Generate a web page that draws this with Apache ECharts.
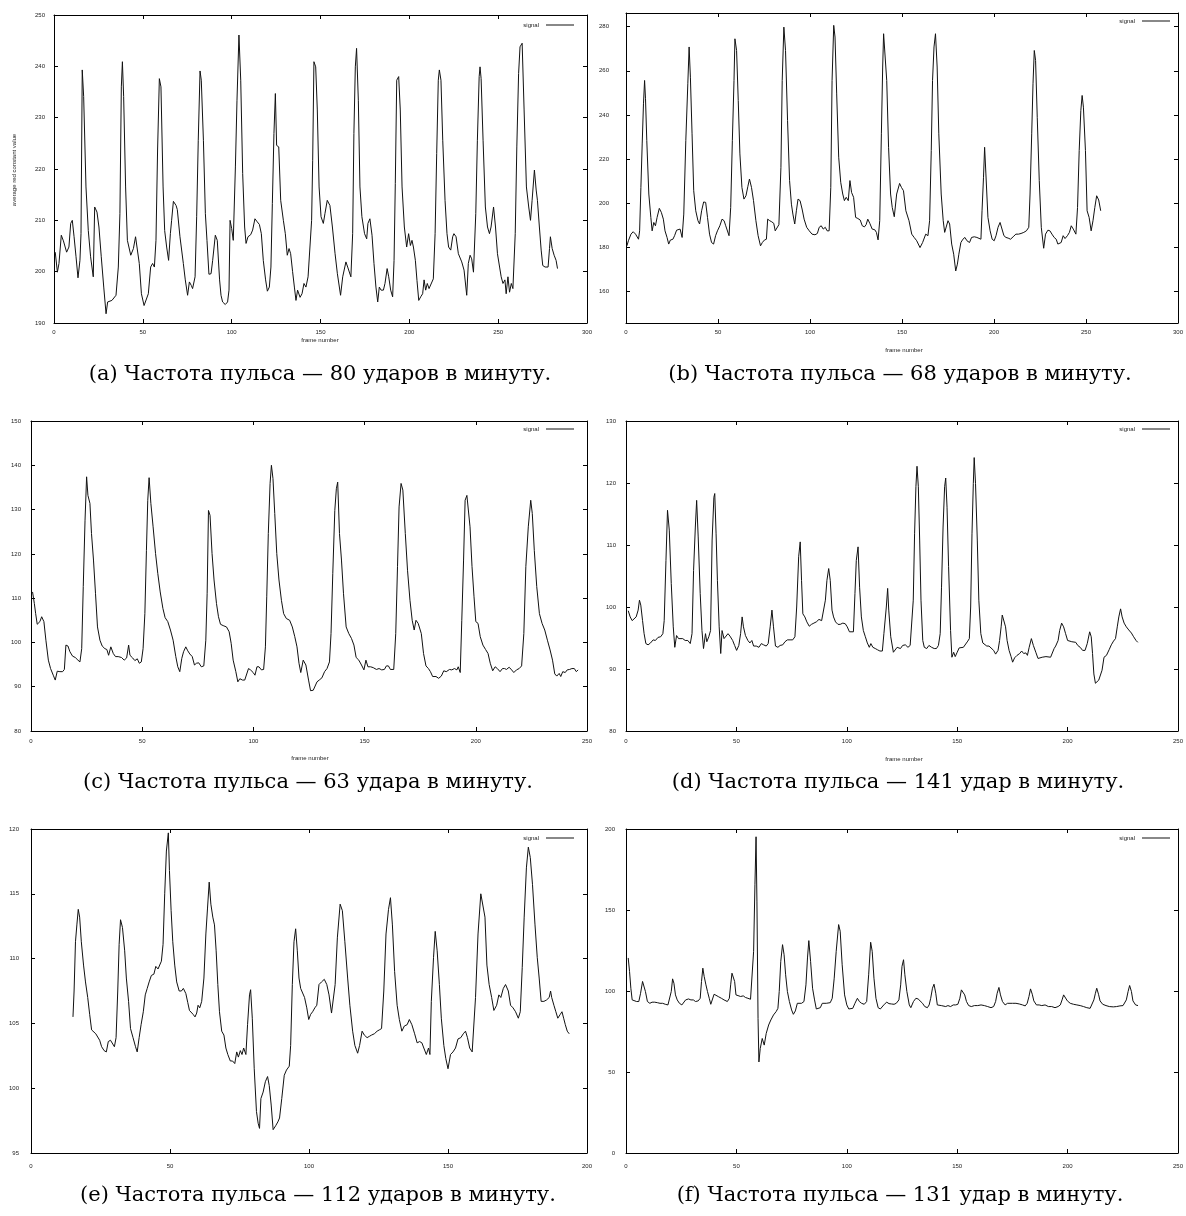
<!DOCTYPE html>
<html>
<head>
<meta charset="utf-8">
<title>Pulse signals</title>
<script src="https://cdn.jsdelivr.net/npm/echarts@6/dist/echarts.min.js"></script>
<style>
html, body { margin: 0; padding: 0; background: #fff; }
#chart { width: 1186px; height: 1216px; }
</style>
</head>
<body>
<div id="chart"></div>
<script>
// [frame, average red value]
var signalA = [[0.7,203.8],[1.9,199.9],[2.8,201.6],[4.1,207.1],[5.3,206],[7.1,203.8],[8.4,204.8],[9.4,209.4],[10.3,210],[11.3,206.8],[12.4,202.9],[13.5,198.8],[14.6,202.2],[15.2,207.4],[15.9,239.3],[16.7,234.1],[18,216.5],[19.3,208],[20.6,202.9],[22.1,199],[22.9,212.6],[24.2,211.6],[25.3,208.7],[26.6,202.9],[28,197],[29.3,191.8],[30.2,194.1],[31.1,193.8],[32.6,194.4],[34.9,195.4],[36.2,200.9],[37.1,211.3],[37.9,236],[38.5,240.9],[39.2,234.1],[40.3,216.5],[41.3,206.1],[43.2,203.2],[44.7,204.5],[45.9,206.8],[46.5,207.1],[48,201.6],[49.2,195.7],[50.7,193.4],[51.8,193.4],[53.1,195.7],[54.4,200.9],[55.5,201.6],[56.5,200.9],[57.4,206.1],[58.3,223.7],[59.3,237.6],[60.2,236],[61.4,216.5],[62.3,208],[63.4,204.8],[64.5,202.2],[65.5,207.4],[66.2,210],[67.2,213.7],[68.7,212.9],[69.4,212.1],[70.9,206.8],[72.8,201.6],[73.9,198.4],[75.2,195.4],[76.2,198],[77.3,197.3],[78,196.7],[79.4,199],[80.3,210.7],[81.2,225.6],[82.2,239.1],[82.9,237.3],[84.1,225.6],[85.2,211.3],[86.1,206.1],[87.2,199.5],[88.4,199.6],[89.3,202.2],[90.8,207.1],[91.9,206.1],[93.2,198.4],[94,195.4],[94.9,194.1],[96.4,193.6],[97.7,194.1],[98.5,196.4],[99.1,210],[100,208.4],[100.9,206.1],[102.1,220.4],[103,233.4],[104.1,246.1],[105.1,237.3],[106.2,219.1],[107.3,208.7],[108.1,205.5],[109.2,206.8],[110.7,207.2],[111.8,208.1],[113.1,210.3],[114.4,209.7],[115.6,209.2],[116.7,207.4],[117.8,202.2],[119.1,198.4],[120.1,196.2],[121.2,197],[122.1,200.9],[122.9,213.3],[123.8,226.9],[124.6,234.7],[125.3,224.6],[126.5,224.3],[127.6,213.9],[129.1,210],[130.2,207.4],[131.3,203.2],[132.3,204.5],[133.2,203.5],[134.3,200],[135.3,197],[136.2,194.4],[137.1,196.4],[138.5,195],[139.6,195.7],[140.7,197.7],[141.8,197],[143,199],[144.1,199],[145,210],[145.6,221.7],[146.3,240.9],[147.3,239.9],[148.2,231.5],[149.2,216.5],[150.3,210.7],[151.6,209.4],[152.5,211.3],[153.8,213.9],[155.3,212.9],[156.7,208.7],[158.2,203.5],[159.5,199.6],[161.3,195.4],[162.5,199],[163.4,199],[164.3,201.9],[165.3,200.9],[166.2,201.2],[167.1,199],[168.1,207.4],[168.8,226.9],[169.6,239.9],[170.3,243.5],[171.3,233.4],[172.2,216.5],[173.3,210.7],[174.8,207.4],[176,206.4],[176.7,209.4],[177.8,210.3],[179,207.1],[180.1,201.6],[181.2,197],[182.2,194.1],[183.1,197],[184.1,196.4],[185.4,196.4],[186.3,197.7],[187.5,200.6],[188.4,199],[189.5,196.4],[190.6,195.1],[191.4,202.2],[192.1,217.2],[192.9,237.3],[194,238],[194.9,231.5],[195.9,216.5],[197.2,208.7],[198.5,204.8],[199.6,207.4],[200.6,205.1],[201.5,206.1],[202.3,204.8],[203.4,202.2],[204.3,198.3],[205.3,194.4],[206.4,195.1],[207.5,195.7],[208.3,198.4],[209.2,196.4],[210.1,197.7],[211.1,196.7],[212.2,197],[213.5,198.6],[214.5,207.4],[215.4,223],[216.3,237.3],[216.9,239.3],[217.8,237.3],[218.8,225.6],[220.1,213.9],[221.2,207.4],[222.1,204.8],[223.3,204.2],[224.4,206.8],[225.1,207.4],[226.3,206.8],[227.6,203.5],[229.5,201.9],[230.8,200.3],[232.3,195.4],[233.2,201.6],[234.2,203.2],[235.1,202.5],[236.1,199.9],[237.4,211.3],[238.3,225.6],[239.3,238],[239.8,239.9],[240.4,237.6],[241.5,225.6],[242.8,212.6],[244,208.7],[245.1,207.4],[246,208.7],[247.4,212.6],[248.5,208.7],[249.6,203.5],[250.8,200.9],[251.7,199],[252.7,197.7],[253.8,198.4],[254.5,195.7],[255.5,199],[256.4,196],[257.4,197.7],[258.3,196.7],[259.6,207.4],[260.5,224.3],[261.5,238.6],[262.3,243.8],[263.5,244.5],[264.6,231.5],[265.9,216.5],[267.2,212.6],[268.2,210],[269.1,213.9],[270.4,219.8],[271.4,215.9],[272.1,213.9],[273.2,208.7],[274.2,204.2],[275.1,201.2],[276.4,200.9],[278.1,200.9],[278.9,204.5],[279.4,206.8],[280.4,204.5],[281.5,203.2],[282.6,202.2],[283.4,200.6]];

var signalB = [[0.5,180.6],[1.3,182.9],[2.7,185.9],[3.9,187],[5.2,185.9],[6.8,183.6],[7.4,187.4],[8.1,207.1],[8.8,226.8],[9.5,245],[10.1,255.6],[10.6,247.3],[11.3,228.3],[12.4,204.1],[13.5,193.5],[14.2,187.4],[15.1,191.2],[16,189.7],[16.9,193.5],[18.1,197.6],[19.2,195.8],[20.3,192.7],[21.2,187.4],[22.3,184.4],[23.2,181.4],[24.1,183.2],[25.5,183.6],[26.4,185.2],[27.5,187.7],[28.5,187.7],[29.4,188.2],[30.5,184.4],[31.4,195],[32.5,228.3],[33.6,254.1],[34.3,270.8],[35,257.1],[35.9,231.4],[36.8,205.6],[37.9,196.5],[39.1,192],[40,190.5],[41.1,196.5],[42.2,200.5],[43.3,200.3],[44.3,193.5],[45.4,185.9],[46.5,182.1],[47.6,181.4],[48.7,185.2],[49.7,187.4],[51,189.7],[52.2,192.7],[53.3,192],[54.2,189.7],[55.1,188.9],[56,185.2],[56.9,198],[57.8,228.3],[58.7,255.6],[59.2,274.5],[60.1,269.2],[61,246.5],[61.9,222.3],[63,207.1],[64.1,201.8],[65.2,203.3],[66.2,207.4],[67.1,210.9],[68.2,207.1],[69.3,201.1],[70.6,192],[71.8,185.2],[73.1,180.6],[74.1,182.1],[75.2,183.2],[76.3,183.6],[77,192.7],[78.1,192],[79.2,191.5],[80.3,190.8],[81.1,187.4],[82,187.4],[83.1,190.2],[84.2,216.2],[84.9,255.6],[85.8,279.8],[86.7,269.2],[87.8,237.4],[88.9,210.2],[89.9,199.5],[90.7,195],[91.7,190.5],[92.6,196.5],[93.5,201.8],[94.6,201.1],[95.7,197.3],[96.8,192.7],[98.2,189],[99.6,187.4],[101.1,185.9],[102.7,185.6],[104,186.2],[105,189],[106.1,189.7],[107.2,188.2],[108.3,189],[109.3,187.4],[110.4,187.4],[111.3,207.1],[112,255.6],[112.9,280.6],[113.6,275.3],[114.5,249.5],[115.6,220.8],[116.7,209.4],[117.8,204.1],[118.7,201.1],[119.7,202.6],[120.8,201.1],[121.7,210.2],[122.6,204.8],[123.7,202.6],[124.8,193.5],[126,193],[127.3,192.3],[128.4,189.7],[129.6,189.2],[130.5,190.2],[131.4,192.7],[132.5,190.8],[133.8,188.2],[135.2,187.9],[136.1,186.7],[137,183.3],[137.9,192],[138.8,231.4],[139.5,261.7],[140,276.8],[140.9,276.1],[141.7,255.6],[142.7,225.3],[143.8,204.1],[144.7,198],[145.8,193.8],[147.1,204.1],[148.7,208.9],[149.7,207.1],[150.8,205.6],[152.1,196.5],[153.8,192],[155.3,185.9],[156.6,184.4],[158,182.9],[159.8,179.8],[161.2,182.1],[162.9,185.9],[164.1,185.2],[165,192],[165.9,223.8],[166.6,255.6],[167.4,270.8],[168.2,276.8],[169.1,261.7],[170,231.4],[171.3,204.1],[172.4,192],[173.2,186.7],[174.1,187.4],[175,192],[175.9,190.5],[177,181.4],[178.1,176.8],[179.2,169.2],[180.1,172.3],[180.9,176.8],[182,182.1],[183.1,183.6],[184.2,184.4],[185.3,182.9],[186.7,182.1],[187.8,184.4],[189.3,184.7],[190.7,184.4],[192.9,183.6],[193.5,196.5],[194.3,211.7],[194.9,225.3],[195.6,213.2],[196.7,193.5],[197.9,187.4],[199,183.6],[200.1,182.9],[201.1,185.2],[202.2,189],[203.3,191.2],[204.3,190.5],[205.4,185.2],[206.5,184.4],[207.7,184.1],[209,183.6],[210.4,184.7],[211.9,185.9],[213.3,185.9],[214.7,186.2],[216.2,186.7],[217.6,187.4],[218.9,189],[219.6,204.1],[220.5,231.4],[221.2,254.1],[221.9,269.2],[222.6,264.7],[223.5,238.9],[224.6,210.2],[225.7,189],[227,179.5],[228,185.9],[229.3,187.7],[230.4,187.4],[231.5,185.9],[232.7,184.4],[233.8,183.6],[234.7,181.4],[235.6,181.8],[236.5,182.1],[237.6,185.2],[238.6,183.9],[239.9,185.2],[241,186.7],[242,189.7],[243.1,188.2],[244.5,185.9],[245.4,198],[246.3,223.8],[247.2,242],[247.9,248.8],[248.6,243.5],[249.7,223.8],[250.6,196.5],[251.7,193.5],[252.8,187.4],[253.8,192],[254.8,198],[255.8,203.3],[256.9,201.4],[258,196.5]];

var signalC = [[0.7,111.4],[1.5,108.8],[2.1,106.5],[2.8,104.1],[4,104.7],[4.8,105.8],[5.8,104.7],[6.7,100.5],[7.8,96],[8.8,94.1],[10,92.6],[10.9,91.5],[11.8,93.5],[13,93.4],[14.2,93.4],[15,93.9],[15.7,99.4],[16.6,99.2],[17.5,97.9],[18.7,96.9],[19.9,96.6],[21.1,96],[22,95.6],[22.8,98.6],[23.5,112.6],[24.3,127.6],[25,137.4],[25.6,133.2],[26.5,131.4],[27.2,124.6],[28.1,118.6],[29,111.1],[29.9,103.5],[31,100.5],[32,99.2],[33.2,98.6],[34.1,98.4],[34.9,97.1],[35.9,99],[37,97.5],[38,96.8],[39.2,96.8],[40.7,96.6],[41.9,96],[43,96.5],[43.9,99.4],[44.5,97.1],[45.7,96.5],[46.7,95.9],[47.8,96.3],[48.7,95.3],[49.6,95.6],[50.4,98.6],[51.2,106.5],[51.9,120.8],[52.5,132.1],[53.1,137.2],[53.9,131.4],[54.9,126.1],[56,120.1],[57,115.6],[58.1,111.4],[59.3,107.7],[60.3,105.6],[61.5,104.7],[62.7,102.8],[63.9,100.5],[65.1,96.8],[66,94.5],[66.9,93.4],[67.8,96.4],[68.6,97.9],[69.6,99],[70.5,98.1],[71.4,97.4],[72.5,96.8],[73.5,94.9],[74.4,95.3],[75.4,95.4],[76.6,94.5],[77.7,94.7],[78.6,100.5],[79.2,111.1],[79.8,129.8],[80.5,128.7],[81.4,120.1],[82.3,114.1],[83.4,108.8],[84.3,105.8],[85.2,104.1],[86.4,103.8],[87.9,103.5],[89.1,102.4],[90,99.8],[90.9,96],[92.1,93.4],[93,91.1],[93.9,91.8],[95.1,91.5],[96.1,91.5],[96.9,91.3],[97.8,94.1],[98.7,93.8],[99.9,93.2],[100.7,92.6],[101.6,94.5],[102.5,94.5],[103.6,93.8],[104.6,93.9],[105.4,99],[106,110.3],[106.7,124.6],[107.5,135.9],[108.1,140],[108.8,137],[109.6,129.1],[110.5,120.1],[111.5,114.1],[112.6,109.5],[113.6,106.5],[114.8,105.4],[116.3,105],[117.5,103.5],[118.6,101.3],[119.6,99],[120.5,95.3],[121.3,93.2],[122.4,96],[123.6,94.9],[124.8,91.5],[125.7,89.1],[126.9,89.2],[127.5,88.9],[128.6,91.1],[129.6,91.5],[130.8,92],[132,93.4],[133.1,94.1],[134.2,95.6],[134.9,102],[135.7,115.6],[136.6,129.8],[137.3,134.7],[137.9,136.2],[138.7,124.6],[139.6,118.6],[140.5,111.1],[141.7,103.5],[142.9,102],[144.1,100.9],[145.2,99.4],[146.2,96.6],[147.4,96],[148.6,94.9],[149.7,93.8],[150.6,96],[151.5,94.5],[152.7,94.5],[153.9,94.3],[155.3,93.9],[156.5,94.1],[157.7,93.8],[158.9,93.9],[159.8,94.7],[160.7,94.7],[161.6,93.9],[163.1,93.9],[164,102],[164.8,117.1],[165.5,130.6],[166.4,135.9],[167.2,134.4],[168.3,124.6],[169.3,116.3],[170.4,109.5],[171.4,105],[172.3,102.8],[173.1,105],[174.1,104.3],[175.5,102],[176.5,97.5],[177.6,94.7],[178.7,94.1],[179.6,93.4],[180.6,92.3],[182.1,92.3],[183.3,91.9],[184.5,92.4],[185.6,93.6],[186.7,93.4],[188.2,93.9],[189.2,93.8],[190.4,94.1],[191.5,93.8],[192.1,94.5],[193,93.2],[193.7,105],[194.5,118.6],[195.2,132.1],[196,133.2],[196.6,133.6],[197.4,126.1],[198.3,117.1],[199.2,110.3],[200,104.7],[201,104.3],[202,101.3],[203.2,99.4],[204.4,98.4],[205.5,97.5],[206.5,95.3],[207.6,93.6],[208.7,94.5],[209.7,94.1],[210.9,93.4],[212,94.1],[212.9,94.1],[213.8,93.9],[215,94.4],[216.1,93.8],[217.1,93.2],[218.3,93.8],[219.5,94.1],[220.6,94.7],[221.6,102],[222.5,117.1],[223.6,126.1],[224.7,132.1],[225.4,129.1],[226.3,120.8],[227.4,112.6],[228.6,106.5],[229.8,104.3],[231,102.8],[232.2,100.5],[233.4,98.3],[234.5,96],[235.5,92.9],[236.4,92.4],[237.5,93],[238.2,92.3],[239.1,93.4],[240.2,93.2],[241.1,93.8],[242.2,93.9],[243.2,94.1],[244.3,94.1],[245.2,93.4],[246,93.8]];

var signalD = [[1,99.4],[1.9,98.4],[2.8,97.8],[3.7,97.6],[4.6,98.4],[5.5,99.5],[6.1,101.1],[6.7,100.3],[7.5,97.8],[8.2,95.7],[9,94.1],[10,93.9],[11.1,94.2],[12.3,94.7],[13.3,94.6],[14.5,95.1],[15.7,95.2],[16.7,95.7],[17.3,97.8],[18.1,107.5],[18.8,115.6],[19.6,112.4],[20.5,103.8],[21.4,96.8],[22.1,93.5],[22.9,95.4],[23.8,94.9],[24.7,95.2],[25.7,94.9],[26.8,94.6],[28,94.6],[29.1,94.1],[29.9,95.7],[30.6,105.9],[31.4,112.9],[32,117.2],[32.7,111.3],[33.6,102.2],[34.4,96.2],[35.1,93.3],[36,95.7],[36.6,94.4],[37.5,95.2],[38.3,96.2],[39,110.8],[39.8,117.7],[40.2,118.3],[40.8,111.8],[41.4,104.3],[42.2,96.8],[42.9,92.5],[43.5,96.2],[44.4,94.9],[45.3,95.2],[46.2,95.7],[47.1,95.3],[48.3,94.6],[49.2,93.8],[50.1,93],[51.1,93.8],[51.9,95.7],[52.6,98.4],[53.2,96.8],[54.1,95.4],[55.2,94.6],[56.1,94.2],[57,94.6],[57.8,93.7],[59,93.7],[60.2,93.5],[61.3,94.1],[62.3,93.9],[63.5,93.7],[64.4,94.1],[65.3,96.8],[66.1,99.5],[66.8,96.8],[67.7,93.7],[68.8,93.5],[69.8,93.8],[71,93.9],[72,94.4],[73.1,94.7],[74.3,94.7],[75.5,94.7],[76.5,95.2],[77.3,100],[78.2,108.1],[78.9,110.5],[79.5,104.3],[80.1,98.9],[81,98.4],[81.9,97.6],[83,96.9],[84,97.2],[85.1,97.4],[86.2,97.6],[87.4,98],[88.6,97.8],[89.5,98],[90.3,101.1],[91,104.3],[91.8,106.2],[92.5,104.3],[93.3,99.5],[94,98.4],[94.9,97.6],[96,97.2],[97,97.2],[98.2,97.4],[99.3,97.3],[100.2,96.8],[101.2,96],[102.1,95.7],[103,96],[103.7,102.2],[104.3,107.5],[105.1,109.7],[105.8,103.2],[106.6,98.4],[107.5,96.2],[108.4,95.2],[109.3,94.2],[110.2,93.5],[110.9,94.1],[111.8,93.5],[112.9,93.3],[113.9,93.1],[115,92.9],[116.1,92.9],[116.8,95.7],[117.9,100],[118.5,103],[119,99.5],[119.9,95.2],[121.1,92.7],[122,92.5],[122.8,93.5],[123.5,93.8],[124.3,93.3],[125.3,93.8],[126.5,93.9],[127.7,93.5],[128.7,93.8],[129.5,94.1],[130.1,101.1],[130.7,111.8],[131.3,119.4],[131.8,122.7],[132.4,119.4],[133,110.8],[133.6,101.1],[134.4,94.6],[135.1,93.5],[136.2,93.3],[137.2,93.8],[138.4,93.5],[139.6,93.3],[140.6,93.3],[141.5,93.8],[142.3,95.7],[142.9,103.2],[143.6,112.9],[144.3,119.4],[144.8,120.8],[145.4,116.1],[146.1,106.5],[147,96.2],[147.6,91.9],[148.4,92.7],[149.1,92],[150,92.7],[150.9,93.4],[151.8,93.4],[152.8,93.5],[153.7,93.8],[154.8,94.5],[155.5,94.9],[156.1,100],[156.7,111.8],[157.3,119.9],[157.7,124.1],[158.3,119.9],[159.1,110.8],[159.8,101.1],[160.7,95.7],[161.6,94.2],[162.5,94.2],[163.4,93.7],[164.4,93.7],[165.3,93.5],[166.5,93],[167.4,92.4],[168.5,93],[169.2,94.6],[169.9,96.8],[170.4,98.7],[171.3,98.7],[171.9,96.8],[172.6,94.6],[173.5,93],[174.4,92],[175.1,91.1],[176,91.8],[177.1,92.2],[178.3,92.5],[179.2,92.9],[180.1,92.5],[181.1,92.6],[181.8,92.2],[182.6,93.5],[183.6,94.9],[184.5,93.8],[185.6,92.7],[186.6,91.7],[187.5,91.7],[188.5,91.9],[189.4,92.2],[190.2,92],[191.1,91.7],[192.3,91.9],[193.2,92.2],[193.9,93.3],[194.6,93.7],[195.7,94.6],[196.4,96.2],[197.3,97.4],[198.2,96.8],[199.1,95.7],[200,94.6],[200.9,94.5],[201.9,94.4],[202.8,94.1],[203.7,94.3],[204.6,93.8],[205.7,93.5],[206.8,93],[207.9,93],[208.9,94.1],[210,96],[210.7,95.2],[211.3,92.5],[211.9,89.2],[212.6,87.7],[213.4,87.5],[214.1,88.2],[214.9,87.9],[215.6,89.8],[216.5,91.9],[217.6,92.2],[218.8,93.1],[219.8,93.9],[220.8,94.5],[221.7,94.9],[222.5,96.8],[223.2,98.4],[224,99.7],[224.7,98.4],[225.6,97.4],[226.6,96.8],[227.7,96.3],[228.9,95.8],[229.9,95.2],[231,94.6],[231.8,94.3]];

var signalE = [[15.1,105.5],[15.5,107.5],[16,111.3],[16.5,112.6],[17,113.8],[17.5,113.2],[18.1,111.3],[18.9,109.5],[19.6,108.2],[20.4,107],[21.1,105.7],[21.8,104.5],[22.5,104.4],[23.3,104.2],[24,104.2],[24.7,103.7],[25.4,103.2],[26.3,102.9],[27.1,102.8],[27.8,103.6],[28.6,103.7],[29.3,103.6],[30,103.2],[30.6,103.9],[31.2,107.5],[31.7,111.1],[32.2,113],[32.9,112.4],[33.7,110.6],[34.3,108.5],[35.1,106.7],[35.8,104.6],[36.7,103.9],[37.6,103.2],[38.2,102.8],[38.9,103.9],[39.6,104.9],[40.4,105.9],[41.1,107.2],[41.8,107.7],[42.5,108.2],[43.3,108.7],[44.2,108.8],[44.9,109.4],[45.7,109.2],[46.3,109.3],[46.9,109.8],[47.5,111.1],[48.1,115],[48.7,118.3],[49.4,119.7],[49.8,116.8],[50.4,113.7],[51,111.3],[51.7,109.5],[52.4,108.2],[53.3,107.5],[54.1,107.5],[54.8,107.7],[55.7,107.3],[56.4,106.6],[57,106],[57.6,106.1],[58.3,105.7],[59,105.5],[59.6,105.8],[60.1,106.4],[60.7,106.2],[61.4,106.7],[62.2,108.5],[62.9,111.9],[63.5,113.9],[64.1,115.9],[64.7,114.2],[65.4,113.2],[66,112.6],[66.6,110.6],[67.2,108],[67.8,105.9],[68.6,104.4],[69.4,104.1],[70.1,103.1],[70.8,102.6],[71.7,102.1],[72.5,102.1],[73.3,101.9],[74,102.8],[74.6,102.4],[75.3,102.9],[75.9,102.6],[76.5,103.1],[77.3,102.6],[77.9,104.9],[78.6,107.2],[79,107.6],[79.6,105.4],[80.3,101.5],[81.1,98.2],[81.7,97.3],[82.2,96.9],[82.7,99.2],[83.5,99.7],[84.3,100.5],[85.1,100.9],[85.7,100.2],[86.4,98.7],[87.1,96.8],[88,97.1],[88.8,97.4],[89.4,97.7],[90.2,99.2],[91.1,101],[91.9,101.4],[92.9,101.7],[93.4,103.3],[94,108],[94.6,111.3],[95.2,112.3],[95.8,110.6],[96.4,108.5],[97,107.7],[97.7,107.6],[98.4,107],[99.2,106.2],[99.9,105.3],[100.6,105.7],[101.3,105.9],[102.1,106.2],[102.8,106.4],[103.6,108],[104.5,108.2],[105.5,108.4],[106.4,108],[107.2,107.2],[108.1,105.8],[108.8,105.9],[109.4,108],[110.2,111.6],[111.2,114.2],[112,113.7],[112.9,111.3],[113.9,108.5],[114.7,106.4],[115.7,104.4],[116.5,103.3],[117.5,102.7],[118.2,103.3],[119.1,104.4],[119.9,104.1],[120.9,103.9],[121.7,104],[122.5,104.1],[123.5,104.2],[124.5,104.4],[125.3,104.5],[126.1,104.6],[126.9,107.5],[127.7,111.9],[128.6,113.8],[129.3,114.7],[130,112.6],[130.8,109],[131.7,106.4],[132.5,105.3],[133.4,104.4],[134.3,104.8],[135.3,104.9],[136.1,105.3],[137,104.9],[138,104.2],[138.9,103.5],[139.8,103.6],[140.6,103.5],[141.3,103.1],[142.2,102.6],[143,103.1],[143.5,102.6],[144,106.7],[144.8,110.1],[145.4,112.1],[146.1,110.6],[146.9,108],[147.6,105.4],[148.5,103.3],[149.2,102.3],[150,101.5],[150.9,102.6],[151.8,102.8],[152.7,103.1],[153.6,103.8],[154.6,103.9],[155.5,104.2],[156.3,104.4],[157,103.9],[157.8,103.1],[158.7,102.8],[159.3,102.7],[159.9,107],[160.8,111.9],[161.8,115],[162.5,115.1],[163.3,113.2],[164,109.5],[164.8,108],[165.7,107],[166.5,106],[167.5,106.4],[168.3,107.2],[169,107],[169.9,107.7],[170.7,108],[171.7,107.5],[172.5,106.4],[173.4,106.2],[174.3,105.9],[175.3,105.4],[176,105.9],[176.7,109.3],[177.4,113.2],[178.2,117],[178.9,118.6],[179.6,117.8],[180.4,115.7],[181.3,112.6],[182.1,110.1],[182.8,108.5],[183.5,106.7],[184.5,106.7],[185.4,106.8],[186.4,107],[186.9,107.5],[187.3,107],[188.1,106.4],[188.8,105.9],[189.5,105.4],[190.4,105.7],[191,105.9],[191.6,105.4],[192.2,104.9],[192.9,104.4],[193.6,104.2]];

var signalF = [[1,120.4],[1.6,112.1],[2.2,101.7],[2.8,94.5],[3.7,93.9],[4.8,93.5],[5.8,93.5],[6.6,98.6],[7.5,105.9],[8.1,106.9],[8.8,99.7],[9.7,93.5],[10.8,92.4],[11.8,93.1],[13,93.1],[14.2,92.8],[15.4,92.4],[16.6,92.4],[17.8,91.8],[19,91.4],[19.9,92.4],[20.5,99.7],[21.1,107.5],[21.7,104.8],[22.4,97.6],[23.2,94.5],[24.2,92.4],[25.3,91.4],[26.2,92.4],[27,94.5],[28.3,95.1],[29.4,94.5],[30.5,94.5],[31.5,93.5],[32.7,93.9],[33.6,95.5],[34.2,105.9],[34.8,114.1],[35.4,109],[36.2,103.8],[36.9,99.7],[37.7,95.5],[38.4,91.8],[39.2,92.4],[39.9,98],[40.8,97.2],[42,96.4],[43.2,95.5],[44.4,94.5],[45.9,93.5],[46.8,95.5],[47.4,103.8],[48,111],[48.6,112.1],[49.2,105.9],[49.8,97.6],[50.7,97],[51.9,96.6],[53.1,97],[54.1,96],[55.2,95.5],[56.4,94.9],[57.2,94.9],[57.8,124.5],[58.4,165.9],[58.9,195.2],[59.3,155.5],[59.8,83.1],[60.2,56.2],[60.8,64.5],[61.7,70.7],[62.6,66.6],[63.5,73.8],[64.6,79],[65.6,82.1],[66.8,85.2],[68,87.3],[68.8,89.3],[69.4,99.7],[70.1,118.3],[70.9,128.6],[71.6,122.4],[72.3,110],[73.1,99.7],[74,93.5],[75,88.3],[75.8,85.6],[76.7,87.7],[77.6,92.4],[78.5,91.8],[79.5,92.4],[80.6,93.5],[81.5,103.8],[82.2,120.4],[82.8,131.1],[83.6,118.3],[84.5,101.7],[85.4,94.5],[86.2,88.9],[87.1,87.7],[88,89.7],[88.9,92.4],[89.8,91.4],[90.7,92.4],[91.6,92],[92.5,92.8],[93.4,95.5],[94.3,107.9],[95.2,124.5],[96.3,141],[97,136.9],[97.9,116.2],[99,97.6],[100,91.4],[100.9,88.9],[101.8,87.7],[102.7,89.3],[103.7,92.4],[104.8,95.5],[105.7,93.5],[106.7,92.4],[107.9,91.8],[109,93.5],[109.9,110],[110.8,130.1],[111.5,124.5],[112.3,107.9],[113.2,95.5],[114.2,89.7],[115.2,88.9],[116.1,89.7],[117,91.8],[118.1,93.1],[119.1,92.2],[120.2,92],[121.4,91.8],[122.4,92.4],[123.6,94.5],[124.4,103.8],[125,115.2],[125.7,119.3],[126.3,110],[127.2,99.7],[128.3,91.4],[129,89.7],[130.2,93.5],[131.3,95.5],[132.3,95.1],[133.2,93.9],[134.3,92.4],[135.3,90.4],[136.5,89.7],[137.3,91.4],[138,95.5],[138.8,101.7],[139.5,104.2],[140.3,98.6],[141,91.4],[141.8,90.4],[142.8,91],[143.7,91],[144.8,90.4],[145.8,91],[147,90.4],[148.2,91.4],[149.3,91.4],[150.3,91.8],[151.2,95.5],[151.9,100.7],[152.7,101.7],[153.4,97.6],[154.2,93.5],[155.2,91],[156.4,90.4],[157.8,91],[159.3,91],[160.8,91.4],[162.3,91],[163.8,90.4],[165.3,89.7],[166.5,90.4],[167.4,93.5],[168.1,98.6],[168.9,102.2],[169.6,97.6],[170.5,93.5],[171.7,91.4],[172.8,92.4],[173.7,93.5],[175.1,92.4],[176.6,92.4],[178.1,92],[179.6,91.4],[180.8,90.8],[181.7,92.4],[182.5,96.6],[183.2,101.3],[184,98],[184.7,93.9],[185.9,91.4],[187.1,91.4],[188.3,91],[189.8,91.4],[191.3,90.4],[192.8,90.4],[194.3,89.7],[195.7,90.4],[196.7,91.4],[197.5,94.5],[198.2,97.6],[199,97.2],[199.9,93.9],[201.2,92.4],[202.7,91.8],[204.2,91.4],[205.7,91],[207.2,90.4],[208.7,89.7],[210.2,89.3],[211.1,90.4],[211.9,94.5],[212.6,98.6],[213.2,101.7],[214,98],[214.7,93.9],[215.9,91.8],[217.4,91],[218.9,90.4],[220.7,90.2],[222.2,90.4],[223.7,90.8],[225.1,91],[226,91.4],[226.6,94.5],[227.4,99.7],[228.1,103.4],[228.9,99.7],[229.6,93.9],[230.8,91.4],[231.9,91]];

// tick labels of panel (b), whose range is not a multiple of its step
var ticksB = [160, 180, 200, 220, 240, 260, 280];

var captions = [
    '(a) Частота пульса — 80 ударов в минуту.',
    '(b) Частота пульса — 68 ударов в минуту.',
    '(c) Частота пульса — 63 удара в минуту.',
    '(d) Частота пульса — 141 удар в минуту.',
    '(e) Частота пульса — 112 ударов в минуту.',
    '(f) Частота пульса — 131 удар в минуту.'
];

// layout of the six panels
var panels = [
    {data: signalA, box: [54, 15, 533, 308], x: [0, 300, 50], y: [190, 250, 10], yMargin: 9, xMargin: 6, legend: [612, 25], cap: [320, 375], xName: [320, 340]},
    {data: signalB, box: [626, 13, 558, 310], x: [0, 300, 50], y: [145.6, 286.2], ticks: ticksB, yMargin: 17, xMargin: 6, legend: [16, 21], cap: [900, 375], xName: [904, 350]},
    {data: signalC, box: [31, 421, 556, 310], x: [0, 250, 50], y: [80, 150, 10], yMargin: 10, xMargin: 7, legend: [612, 429], cap: [308, 783], xName: [310, 758]},
    {data: signalD, box: [626, 421, 556, 310], x: [0, 250, 50], y: [80, 130, 10], yMargin: 10, xMargin: 7, legend: [16, 429], cap: [898, 783], xName: [904, 759]},
    {data: signalE, box: [31, 829, 556, 324], x: [0, 200, 50], y: [95, 120, 5], yMargin: 12, xMargin: 10, legend: [612, 838], cap: [318, 1196]},
    {data: signalF, box: [626, 829, 556, 324], x: [0, 250, 50], y: [0, 200, 50], yMargin: 11, xMargin: 10, legend: [16, 838], cap: [900, 1196]}
];

var sans = 'Liberation Sans, Arial, sans-serif';
var myChart = echarts.init(document.getElementById('chart'));

var grids = [], xAxes = [], yAxes = [], series = [], legends = [], graphics = [];

panels.forEach(function (p, i) {
    var border = {onZero: false, lineStyle: {color: '#000', width: 1}};
    var tick = {inside: true, length: 4, lineStyle: {color: '#000', width: 1}};
    var label = {fontSize: 6, color: '#222', fontFamily: sans};

    grids.push({left: p.box[0], top: p.box[1], width: p.box[2], height: p.box[3]});

    ['bottom', 'top'].forEach(function (pos) {
        xAxes.push({
            type: 'value', gridIndex: i, position: pos,
            min: p.x[0], max: p.x[1], interval: p.x[2],
            axisLine: border, axisTick: tick, splitLine: {show: false},
            axisLabel: pos === 'bottom' ? Object.assign({margin: p.xMargin}, label) : {show: false}
        });
    });

    ['left', 'right'].forEach(function (pos) {
        var ax = {
            type: 'value', gridIndex: i, position: pos,
            min: p.y[0], max: p.y[1],
            axisLine: border, axisTick: Object.assign({}, tick), splitLine: {show: false},
            axisLabel: pos === 'left' ? Object.assign({margin: p.yMargin}, label) : {show: false}
        };
        if (p.ticks) {
            ax.axisTick.customValues = p.ticks;
            ax.axisLabel.customValues = p.ticks;
        } else {
            ax.interval = p.y[2];
        }
        yAxes.push(ax);
    });

    series.push({
        name: 'signal', type: 'line',
        xAxisIndex: 2 * i, yAxisIndex: 2 * i,
        data: p.data, symbol: 'none', silent: true,
        lineStyle: {color: '#111', width: 1},
        itemStyle: {color: '#111'}
    });

    // the key is a plain 28px stroke to the right of the word
    legends.push({
        data: [{name: 'signal', icon: 'rect'}], right: p.legend[0], top: p.legend[1] - 3,
        padding: 0, align: 'right', itemWidth: 28, itemHeight: 1, selectedMode: false,
        itemStyle: {color: '#111', borderWidth: 0},
        textStyle: {fontSize: 6, color: '#222', fontFamily: sans, padding: [0, 2, 0, 0]}
    });

    graphics.push({
        type: 'text', x: p.cap[0], y: p.cap[1],
        style: {text: captions[i], fill: '#000', font: '21px "DejaVu Serif", serif', textAlign: 'center', textVerticalAlign: 'middle'}
    });
    if (p.xName) {
        graphics.push({
            type: 'text', x: p.xName[0], y: p.xName[1],
            style: {text: 'frame number', fill: '#222', font: '6px ' + sans, textAlign: 'center', textVerticalAlign: 'middle'}
        });
    }
});

graphics.push({
    type: 'text', x: 14, y: 170, rotation: Math.PI / 2,
    style: {text: 'average red constant value', fill: '#222', font: '6px ' + sans, textAlign: 'center', textVerticalAlign: 'middle'}
});

var option = {
    animation: false,
    backgroundColor: '#fff',
    grid: grids,
    xAxis: xAxes,
    yAxis: yAxes,
    legend: legends,
    series: series,
    graphic: graphics
};

myChart.setOption(option);
window.onresize = myChart.resize;
</script>
</body>
</html>
